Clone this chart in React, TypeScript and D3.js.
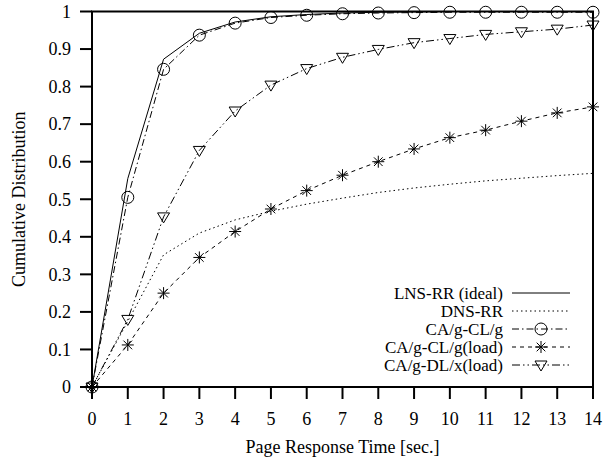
import React from 'react';
import * as d3 from 'd3';

const times = [0, 1, 2, 3, 4, 5, 6, 7, 8, 9, 10, 11, 12, 13, 14];
const lnsIdeal = [0, 0.555, 0.873, 0.942, 0.972, 0.986, 0.992, 0.996, 0.998, 0.999, 1, 1, 1, 1, 1];
const dnsRR = [0, 0.175, 0.352, 0.41, 0.445, 0.468, 0.487, 0.503, 0.518, 0.53, 0.54, 0.549, 0.556, 0.563, 0.569];
const caClg = [0, 0.505, 0.846, 0.937, 0.969, 0.984, 0.99, 0.994, 0.996, 0.997, 0.998, 0.998, 0.998, 0.998, 0.998];
const caClgLoad = [0, 0.112, 0.25, 0.345, 0.414, 0.474, 0.523, 0.564, 0.6, 0.634, 0.664, 0.684, 0.708, 0.73, 0.746];
const caDlxLoad = [0, 0.18, 0.453, 0.63, 0.735, 0.804, 0.848, 0.878, 0.899, 0.917, 0.928, 0.939, 0.946, 0.953, 0.964];

const xTicks = d3.range(0, 15);
const yTicks = [0, 0.1, 0.2, 0.3, 0.4, 0.5, 0.6, 0.7, 0.8, 0.9, 1];

type Marker = 'none' | 'circle' | 'star' | 'tri';
const series: { name: string; values: number[]; dash: string; marker: Marker }[] = [
  { name: 'LNS-RR (ideal)', values: lnsIdeal, dash: '', marker: 'none' },
  { name: 'DNS-RR', values: dnsRR, dash: '1.5,3', marker: 'none' },
  { name: 'CA/g-CL/g', values: caClg, dash: '7,3,1.5,3', marker: 'circle' },
  { name: 'CA/g-CL/g(load)', values: caClgLoad, dash: '4,4', marker: 'star' },
  { name: 'CA/g-DL/x(load)', values: caDlxLoad, dash: '8,3,1.5,3,1.5,3', marker: 'tri' },
];

const font = "'Liberation Serif', 'DejaVu Serif', serif";

const MarkerShape = ({ kind, x, y }: { kind: Marker; x: number; y: number }) => {
  if (kind === 'circle') return <circle cx={x} cy={y} r={6} fill="none" stroke="#000" strokeWidth={1} />;
  if (kind === 'star') {
    const s = 6;
    const d = s * 0.72;
    return (
      <path
        d={`M${x - s},${y}H${x + s}M${x},${y - s}V${y + s}M${x - d},${y - d}L${x + d},${y + d}M${x - d},${y + d}L${x + d},${y - d}`}
        stroke="#000"
        strokeWidth={1}
        fill="none"
      />
    );
  }
  if (kind === 'tri')
    return (
      <path d={`M${x - 6},${y - 4}L${x + 6},${y - 4}L${x},${y + 6}Z`} fill="none" stroke="#000" strokeWidth={1} />
    );
  return null;
};

const App = () => {
  const width = 603;
  const height = 463;
  const left = 92, right = 593, top = 11.5, bottom = 387;

  const x = d3.scaleLinear().domain([0, 14]).range([left, right]);
  const y = d3.scaleLinear().domain([0, 1]).range([bottom, top]);

  const line = d3.line<number>().x((_, i) => x(times[i])).y(d => y(d));

  const legendX = 503;
  const legendY0 = 293;
  const legendStep = 18;

  return (
    <svg width={width} height={height} style={{ position: 'absolute', left: 0, top: 0, background: '#fff', fontFamily: font }}>
      <rect width={width} height={height} fill="#fff" />

      {series.map(s => (
        <g key={s.name}>
          <path d={line(s.values) || ''} fill="none" stroke="#000" strokeWidth={1} strokeDasharray={s.dash || undefined} />
          {s.marker !== 'none' && s.values.map((v, i) => <MarkerShape key={i} kind={s.marker} x={x(times[i])} y={y(v)} />)}
        </g>
      ))}

      {/* frame */}
      <rect x={left} y={top} width={right - left} height={bottom - top} fill="none" stroke="#000" strokeWidth={2} />

      {/* y axis */}
      {yTicks.map(t => (
        <g key={t}>
          <line x1={left - 12} x2={left} y1={y(t)} y2={y(t)} stroke="#000" strokeWidth={2} />
          <text x={71} y={y(t)} dy="0.35em" textAnchor="end" fontSize={18}>{t}</text>
        </g>
      ))}

      {/* x axis */}
      {xTicks.map(t => (
        <g key={t}>
          <line x1={x(t)} x2={x(t)} y1={bottom} y2={bottom + 12} stroke="#000" strokeWidth={2} />
          <text x={x(t)} y={425} textAnchor="middle" fontSize={18}>{t}</text>
        </g>
      ))}

      <text x={(left + right) / 2} y={453} textAnchor="middle" fontSize={18}>Page Response Time [sec.]</text>
      <text transform={`translate(25,${(top + bottom) / 2}) rotate(-90)`} textAnchor="middle" fontSize={18}>
        Cumulative Distribution
      </text>

      {/* legend */}
      {series.map((s, i) => {
        const ly = legendY0 + i * legendStep;
        return (
          <g key={s.name}>
            <text x={legendX} y={ly} dy="0.35em" textAnchor="end" fontSize={17}>{s.name}</text>
            <line x1={512} x2={570} y1={ly} y2={ly} stroke="#000" strokeWidth={1} strokeDasharray={s.dash || undefined} />
            {s.marker !== 'none' && <MarkerShape kind={s.marker} x={541} y={ly} />}
          </g>
        );
      })}
    </svg>
  );
};

export default App;
